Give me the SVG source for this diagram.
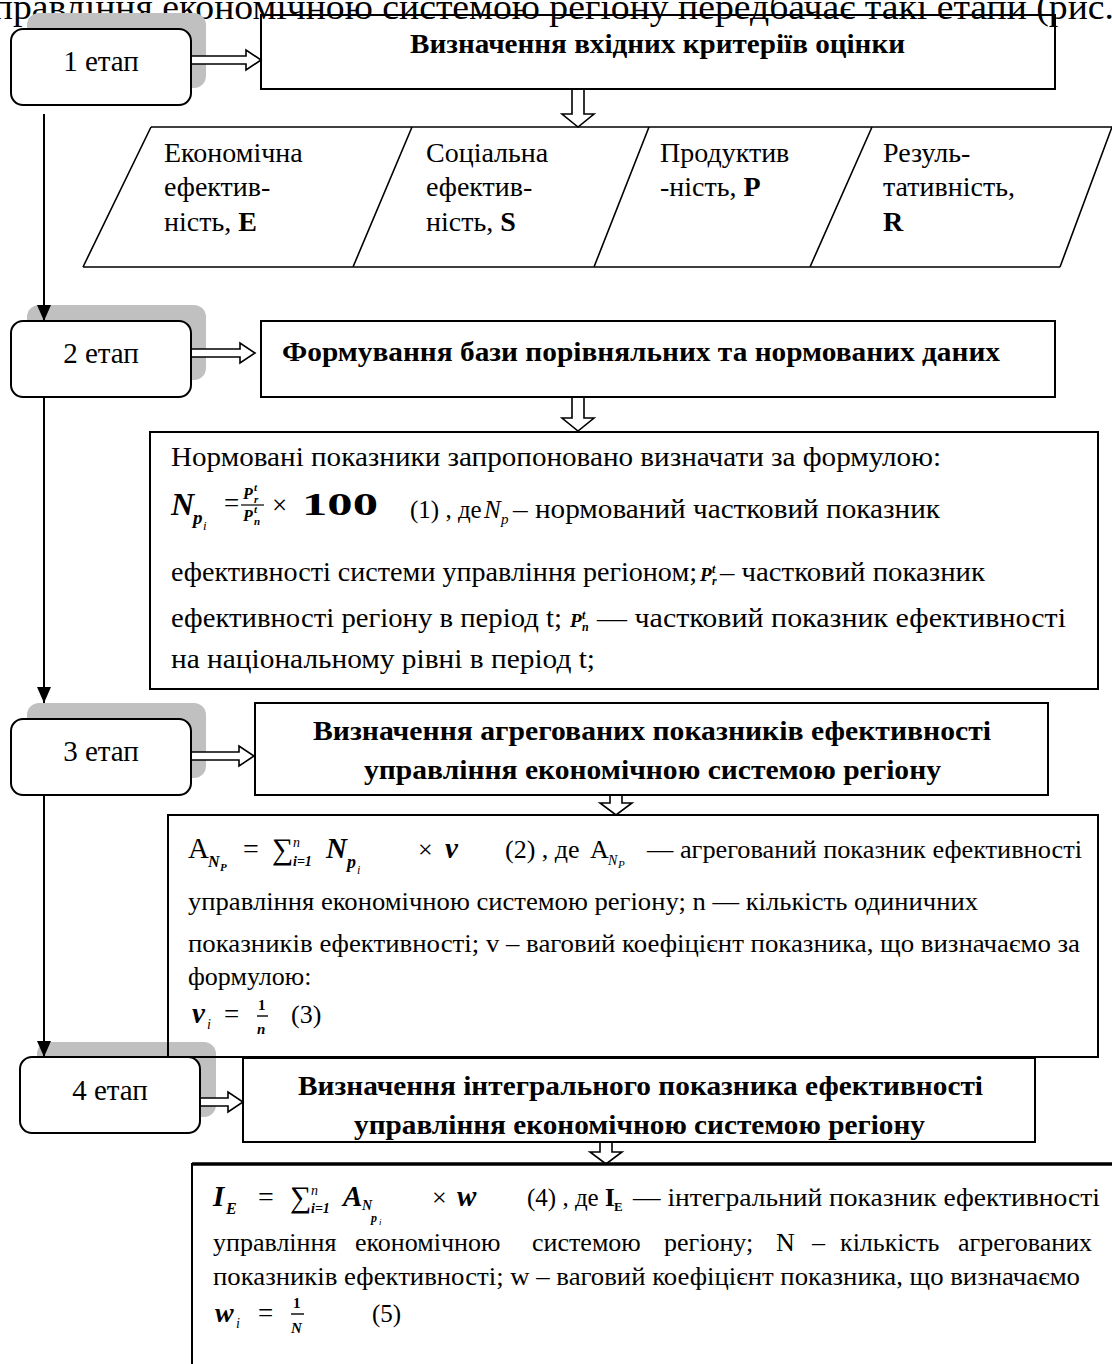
<svg xmlns="http://www.w3.org/2000/svg" width="1112" height="1364" viewBox="0 0 1112 1364">
<style>
text{font-family:"Liberation Serif","Times New Roman",serif;fill:#000}
.b{font-weight:bold}
.i{font-style:italic}
.bi{font-weight:bold;font-style:italic}
.st{font-size:29px;text-anchor:middle}
.hd{font-size:27px;font-weight:bold}
.body{font-size:27px}
.b3{font-size:26px}
.b4{font-size:25px}
.par-t{font-size:28px}
.shadow{fill:#c0c0c0}
.stage{fill:#fff;stroke:#000;stroke-width:2}
.box{fill:none;stroke:#000;stroke-width:2}
.hol{fill:#fff;stroke:#000;stroke-width:1.6}
.conn{fill:none;stroke:#000;stroke-width:2}
.par{fill:none;stroke:#000;stroke-width:1.6}
</style>
<defs>
<marker id="ah" markerUnits="userSpaceOnUse" markerWidth="16" markerHeight="14" refX="16" refY="7" orient="auto">
<path d="M0,0 L16,7 L0,14 Z" fill="#000"/>
</marker>
<clipPath id="clipH4"><rect x="243" y="1058" width="793" height="83"/></clipPath>
</defs>

<text x="-26" y="19" font-size="35" textLength="1140" lengthAdjust="spacingAndGlyphs">управління економічною системою регіону передбачає такі етапи (рис.</text>

<!-- shadows -->
<rect class="shadow" x="27" y="13" width="179" height="75" rx="12"/>
<rect class="shadow" x="27" y="305" width="179" height="75" rx="12"/>
<rect class="shadow" x="27" y="703" width="179" height="75" rx="12"/>
<rect class="shadow" x="37" y="1042" width="179" height="75" rx="12"/>

<g id="connectors">
<path class="conn" d="M44,114 V321" marker-end="url(#ah)"/>
<path class="conn" d="M44,397 V703" marker-end="url(#ah)"/>
<path class="conn" d="M44,795 V1057" marker-end="url(#ah)"/>
<path class="hol" d="M191,56 H246 V50 L261,60 L246,70 V64 H191 Z"/>
<path class="hol" d="M191,349 H240 V343 L255,353 L240,363 V357 H191 Z"/>
<path class="hol" d="M191,752 H239 V746 L254,756 L239,766 V760 H191 Z"/>
<path class="hol" d="M200,1098 H228 V1092 L243,1102 L228,1112 V1106 H200 Z"/>
<path class="hol" d="M572,89 V114 H562 L578,127 L594,114 H584 V89 Z"/>
<path class="hol" d="M572,397 V418 H562 L578,431 L594,418 H584 V397 Z"/>
<path class="hol" d="M610,795 V803 H600 L616,815 L632,803 H622 V795 Z"/>
<path class="hol" d="M600,1142 V1152 H590 L606,1164 L622,1152 H612 V1142 Z"/>
</g>

<g id="stage1"><rect class="stage" x="11" y="29" width="180" height="76" rx="12"/><text class="st" x="101" y="71">1 етап</text></g>
<g id="stage2"><rect class="stage" x="11" y="321" width="180" height="76" rx="12"/><text class="st" x="101" y="363">2 етап</text></g>
<g id="stage3"><rect class="stage" x="11" y="719" width="180" height="76" rx="12"/><text class="st" x="101" y="761">3 етап</text></g>
<g id="stage4"><rect class="stage" x="20" y="1057" width="180" height="76" rx="12"/><text class="st" x="110" y="1100">4 етап</text></g>

<g id="header1"><rect class="box" x="261" y="15" width="794" height="74"/><text class="hd" x="410" y="53" textLength="495" lengthAdjust="spacingAndGlyphs">Визначення вхідних критеріїв оцінки</text></g>

<g id="criteria">
<path class="par" d="M151,127 H1112 M83,267 H1060 M151,127 L83,267 M412,127 L353,267 M649,127 L594,267 M872,127 L810,267 M1112,127 L1060,267"/>
<text class="par-t" x="164" y="162">Економічна</text>
<text class="par-t" x="164" y="196">ефектив-</text>
<text class="par-t" x="164" y="231">ність, <tspan class="b">E</tspan></text>
<text class="par-t" x="426" y="162">Соціальна</text>
<text class="par-t" x="426" y="196">ефектив-</text>
<text class="par-t" x="426" y="231">ність, <tspan class="b">S</tspan></text>
<text class="par-t" x="660" y="162">Продуктив</text>
<text class="par-t" x="660" y="196">-ність, <tspan class="b">P</tspan></text>
<text class="par-t" x="883" y="162">Резуль-</text>
<text class="par-t" x="883" y="196">тативність,</text>
<text class="par-t b" x="883" y="231">R</text>
</g>

<g id="header2"><rect class="box" x="261" y="321" width="794" height="76"/><text class="hd" x="282" y="361" textLength="718" lengthAdjust="spacingAndGlyphs">Формування бази порівняльних та нормованих даних</text></g>

<g id="box2">
<rect class="box" x="150" y="432" width="948" height="257"/>
<text class="body" x="171" y="466" textLength="770" lengthAdjust="spacingAndGlyphs">Нормовані показники запропоновано визначати за формулою:</text>
<text class="bi" x="171" y="515" font-size="32">N</text>
<text class="bi" x="193" y="524" font-size="19">p</text>
<text class="i" x="203" y="530" font-size="13">i</text>
<text x="224" y="512" font-size="27">=</text>
<text class="bi" x="243" y="499" font-size="16">P</text><text class="bi" x="254" y="491" font-size="11">t</text><text class="bi" x="254" y="503" font-size="11">r</text>
<line x1="241" y1="505" x2="264" y2="505" stroke="#000" stroke-width="1.2"/>
<text class="bi" x="243" y="521" font-size="16">P</text><text class="bi" x="254" y="513" font-size="11">t</text><text class="bi" x="254" y="525" font-size="11">n</text>
<text x="272" y="514" font-size="27">×</text>
<text class="b" x="302" y="515" font-size="31" textLength="76" lengthAdjust="spacingAndGlyphs">100</text>
<text x="410" y="518" font-size="25">(1) , де</text>
<text class="i" x="484" y="518" font-size="25">N</text><text class="i" x="501" y="524" font-size="15">p</text>
<text class="body" x="513" y="518" textLength="427" lengthAdjust="spacingAndGlyphs">– нормований частковий показник</text>
<text class="body" x="171" y="581" textLength="526" lengthAdjust="spacingAndGlyphs">ефективності системи управління регіоном;</text>
<text class="bi" x="700" y="581" font-size="19">P</text><text class="bi" x="712" y="573" font-size="12">t</text><text class="bi" x="712" y="585" font-size="12">r</text>
<text class="body" x="720" y="581" textLength="265" lengthAdjust="spacingAndGlyphs">– частковий показник</text>
<text class="body" x="171" y="627" textLength="391" lengthAdjust="spacingAndGlyphs">ефективності регіону в період t;</text>
<text class="bi" x="570" y="627" font-size="19">P</text><text class="bi" x="582" y="619" font-size="12">t</text><text class="bi" x="582" y="631" font-size="12">n</text>
<text class="body" x="597" y="627" textLength="469" lengthAdjust="spacingAndGlyphs">— частковий показник ефективності</text>
<text class="body" x="171" y="668" textLength="424" lengthAdjust="spacingAndGlyphs">на національному рівні в період t;</text>
</g>

<g id="header3"><rect class="box" x="255" y="703" width="793" height="92"/>
<text class="hd" x="313" y="740" textLength="678" lengthAdjust="spacingAndGlyphs">Визначення агрегованих  показників ефективності</text>
<text class="hd" x="364" y="779" textLength="577" lengthAdjust="spacingAndGlyphs">управління економічною системою регіону</text></g>

<g id="box3">
<rect class="box" x="168" y="815" width="930" height="242"/>
<text x="188" y="858" font-size="29">A</text>
<text class="bi" x="208" y="867" font-size="16">N</text><text class="bi" x="220" y="871" font-size="11">P</text>
<text x="243" y="858" font-size="28">=</text>
<text x="272" y="859" font-size="30">∑</text>
<text class="i" x="293" y="847" font-size="14">n</text>
<text class="bi" x="293" y="866" font-size="14">i=1</text>
<text class="bi" x="326" y="858" font-size="29">N</text>
<text class="bi" x="347" y="868" font-size="18">p</text><text class="i" x="357" y="874" font-size="12">i</text>
<text x="418" y="858" font-size="26">×</text>
<text class="bi" x="445" y="858" font-size="29">v</text>
<text class="b3" x="505" y="858">(2) , де</text>
<text class="b3" x="590" y="858">A</text><text class="i" x="608" y="865" font-size="14">N</text><text class="i" x="618" y="868" font-size="11">P</text>
<text class="b3" x="647" y="858" textLength="435" lengthAdjust="spacingAndGlyphs">— агрегований показник ефективності</text>
<text class="b3" x="188" y="910" textLength="790" lengthAdjust="spacingAndGlyphs">управління економічною системою регіону; n — кількість одиничних</text>
<text class="b3" x="188" y="952" textLength="892" lengthAdjust="spacingAndGlyphs">показників ефективності; v – ваговий коефіцієнт показника, що визначаємо за</text>
<text class="b3" x="188" y="985">формулою:</text>
<text class="bi" x="192" y="1023" font-size="29">v</text><text class="i" x="207" y="1029" font-size="14">i</text>
<text x="224" y="1023" font-size="27">=</text>
<text class="b" x="258" y="1010" font-size="15">1</text>
<line x1="257" y1="1016" x2="268" y2="1016" stroke="#000" stroke-width="1.4"/>
<text class="bi" x="257" y="1034" font-size="15">n</text>
<text class="b3" x="291" y="1023">(3)</text>
</g>

<g id="header4"><rect class="box" x="243" y="1058" width="792" height="84"/>
<g clip-path="url(#clipH4)">
<text class="hd" x="298" y="1095" textLength="685" lengthAdjust="spacingAndGlyphs">Визначення інтегрального показника ефективності</text>
<text class="hd" x="354" y="1134" textLength="571" lengthAdjust="spacingAndGlyphs">управління економічною системою регіону</text>
</g></g>

<g id="box4">
<rect x="192" y="1164" width="940" height="220" fill="none" stroke="#000" stroke-width="2"/>
<line x1="192" y1="1164" x2="1112" y2="1164" stroke="#000" stroke-width="3.5"/>
<text class="bi" x="213" y="1206" font-size="29">I</text><text class="bi" x="226" y="1214" font-size="16">E</text>
<text x="258" y="1206" font-size="28">=</text>
<text x="290" y="1207" font-size="30">∑</text>
<text class="i" x="311" y="1195" font-size="14">n</text>
<text class="bi" x="311" y="1213" font-size="14">i=1</text>
<text class="bi" x="343" y="1206" font-size="29">A</text>
<text class="bi" x="362" y="1210" font-size="14">N</text>
<text class="bi" x="371" y="1222" font-size="12">p</text><text class="i" x="379" y="1225" font-size="9">i</text>
<text x="432" y="1206" font-size="26">×</text>
<text class="bi" x="457" y="1206" font-size="29">w</text>
<text class="b4" x="527" y="1206">(4) , де</text>
<text class="b" x="605" y="1206" font-size="25">I</text><text class="b" x="614" y="1211" font-size="13">E</text>
<text class="b4" x="633" y="1206" textLength="467" lengthAdjust="spacingAndGlyphs">— інтегральний показник ефективності</text>
<text font-size="26" y="1251"><tspan x="213">управління</tspan><tspan x="355">економічною</tspan><tspan x="532">системою</tspan><tspan x="664">регіону;</tspan><tspan x="776">N</tspan><tspan x="812">–</tspan><tspan x="840">кількість</tspan><tspan x="958">агрегованих</tspan></text>
<text class="b4" x="213" y="1285" textLength="867" lengthAdjust="spacingAndGlyphs">показників ефективності; w – ваговий коефіцієнт показника, що визначаємо</text>
<text class="bi" x="215" y="1322" font-size="28">w</text><text class="i" x="236" y="1328" font-size="14">i</text>
<text x="258" y="1322" font-size="27">=</text>
<text class="b" x="293" y="1308" font-size="15">1</text>
<line x1="291" y1="1314" x2="304" y2="1314" stroke="#000" stroke-width="1.4"/>
<text class="bi" x="291" y="1333" font-size="15">N</text>
<text class="b4" x="372" y="1322">(5)</text>
</g>
</svg>
